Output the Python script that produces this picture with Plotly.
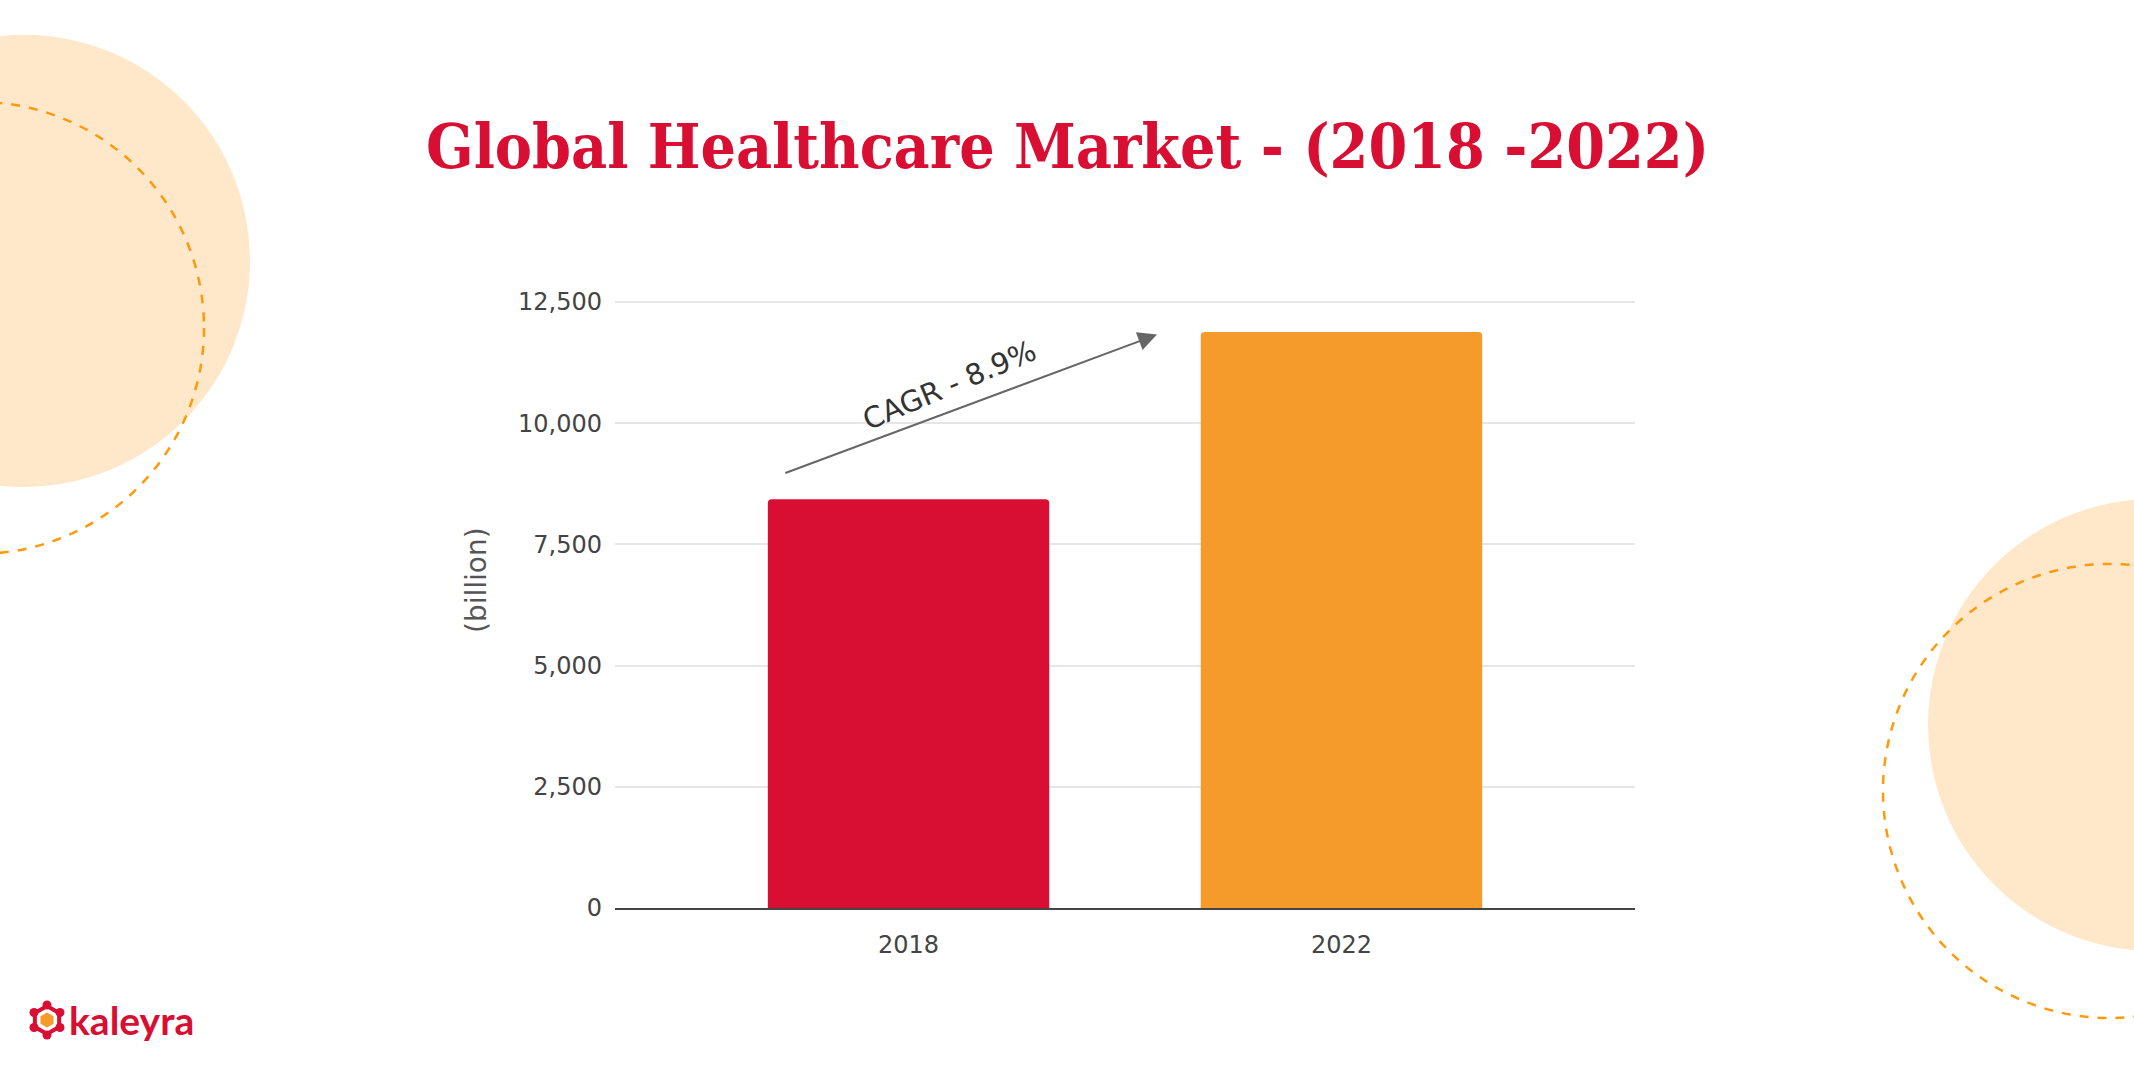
import plotly.graph_objects as go
import math

# ---- data ----
years = ["2018", "2022"]
market_billion = [8430, 11880]
bar_colors = ["#D80E32", "#F49B2C"]
y_ticks = [0, 2500, 5000, 7500, 10000, 12500]
y_tick_labels = ["0", "2,500", "5,000", "7,500", "10,000", "12,500"]
title_text = "Global Healthcare Market - (2018 -2022)"
cagr_label = "CAGR - 8.9%"
y_title = "(billion)"

W, H = 2134, 1067
OFF = 0  # body margin removed by post_script
Y_MAX = 12560
plot_left, plot_right = 615, 1635
plot_zero = 908
plot_top = 302 - (Y_MAX - 12500) * (908 - 302) / 12500
L = plot_left - OFF
T = plot_top - OFF
R = W - (plot_right - OFF)
B = H - (plot_zero - OFF)
PW = plot_right - plot_left
PH = plot_zero - plot_top

def px(x):  # page px -> paper
    return (x - plot_left) / PW

def py(y):
    return (plot_zero - y) / PH

fig = go.Figure()
fig.add_trace(go.Bar(
    x=years, y=market_billion,
    marker=dict(color=bar_colors, cornerradius=4, line=dict(width=0)),
    width=0.65, hoverinfo="x+y",
))

shapes = []
def circle(cx, cy, r, **kw):
    d = dict(type="circle", xref="paper", yref="paper",
             x0=px(cx - r), x1=px(cx + r), y0=py(cy + r), y1=py(cy - r), layer="below")
    d.update(kw)
    shapes.append(d)

peach = "#FFE8C9"
dash_col = "#FF9A0D"
circle(24, 261, 226, fillcolor=peach, line=dict(width=0))
circle(-22, 328, 226, fillcolor="rgba(0,0,0,0)", line=dict(color=dash_col, width=2.5, dash="dash"))
circle(2154, 725, 226, fillcolor=peach, line=dict(width=0))
circle(2110, 791, 227, fillcolor="rgba(0,0,0,0)", line=dict(color=dash_col, width=2.5, dash="dash"))

# logo icon
def hex_path(cx, cy, r, rot=0):
    pts = []
    for k in range(6):
        a = math.radians(60 * k + rot)
        pts.append((px(cx + r * math.cos(a)), py(cy + r * math.sin(a))))
    return "M " + " L ".join(f"{a:.5f},{b:.5f}" for a, b in pts) + " Z"

icx, icy = 47, 1020
shapes.append(dict(type="path", xref="paper", yref="paper", path=hex_path(icx, icy, 14, 90),
                   fillcolor="rgba(0,0,0,0)", line=dict(color="#D80E32", width=4), layer="above"))
for k in range(6):
    a = math.radians(60 * k + 90)
    cx, cy = icx + 15 * math.cos(a), icy + 15 * math.sin(a)
    circle(cx, cy, 4.5, fillcolor="#D80E32", line=dict(width=0), layer="above")
shapes.append(dict(type="path", xref="paper", yref="paper", path=hex_path(icx, icy, 7.5, 90),
                   fillcolor="#F49B2C", line=dict(width=0), layer="above"))

annotations = [
    dict(text=f"<b>{title_text}</b>", xref="paper", yref="paper", x=px(1067), y=py(147),
         xanchor="center", yanchor="middle", showarrow=False,
         font=dict(family="DejaVu Serif Condensed, DejaVu Serif", size=62, color="#D80E32")),
    dict(text=y_title, xref="paper", yref="paper", x=px(477), y=py(580), textangle=-90,
         xanchor="center", yanchor="middle", showarrow=False,
         font=dict(family="DejaVu Sans", size=28, color="#555555")),
    # arrow
    dict(text="", x=0.574, y=11826, ax=-0.288, ay=8961, xref="x", yref="y",
         axref="x", ayref="y", showarrow=True, arrowhead=2, arrowsize=1.9,
         arrowwidth=2, arrowcolor="#666666"),
    dict(text=cagr_label, x=0.095, y=10790, xref="x", yref="y", showarrow=False,
         textangle=-23, font=dict(family="DejaVu Sans", size=29, color="#333333")),
    dict(text="<b>kaleyra</b>", xref="paper", yref="paper", x=px(67), y=py(1020),
         xanchor="left", yanchor="middle", showarrow=False,
         font=dict(family="Lato", size=39, color="#D80E32")),
]

fig.update_layout(
    width=W, height=H,
    margin=dict(l=L, r=R, t=T, b=B, pad=0),
    paper_bgcolor="white", plot_bgcolor="rgba(0,0,0,0)",
    showlegend=False,
    shapes=shapes, annotations=annotations,
    font=dict(family="DejaVu Sans", color="#444444"),
)
fig.update_xaxes(
    type="category", range=[-0.678, 1.678],
    showline=True, linecolor="#444444", linewidth=2,
    showgrid=False, ticks="", tickfont=dict(size=24, color="#444444"),
    ticklabelstandoff=14,
)
fig.update_yaxes(
    range=[0, Y_MAX], tickvals=y_ticks, ticktext=y_tick_labels,
    showgrid=True, gridcolor="#E6E6E6", gridwidth=1.5,
    zeroline=False, showline=False, ticks="",
    tickfont=dict(size=24, color="#444444"), ticklabelstandoff=12,
)

fig.write_html("out.html", config={"displayModeBar": False},
               post_script="document.body.style.margin='0';document.body.style.overflow='hidden';")
